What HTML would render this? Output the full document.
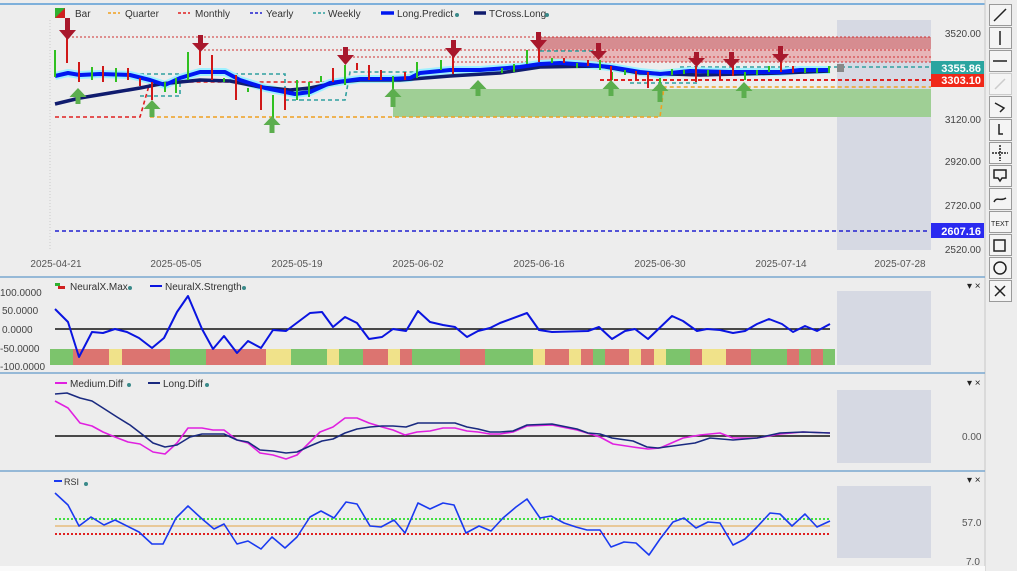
<!DOCTYPE html>
<html><head><meta charset="utf-8"><style>
html,body{margin:0;padding:0;background:#ededed;}
svg{display:block;font-family:"Liberation Sans",sans-serif;}
</style></head><body>
<svg width="1017" height="571" viewBox="0 0 1017 571" xmlns="http://www.w3.org/2000/svg">
<rect width="1017" height="571" fill="#ededed"/>
<line x1="0" y1="4" x2="985" y2="4" stroke="#5a9bd5" stroke-width="1.5"/>
<line x1="985" y1="0" x2="985" y2="571" stroke="#c8c8c8"/>
<!-- shaded future regions -->
<rect x="837" y="20" width="94" height="230" fill="#d6d9e3"/>
<rect x="837" y="291" width="94" height="74" fill="#d6d9e3"/>
<rect x="837" y="390" width="94" height="73" fill="#d6d9e3"/>
<rect x="837" y="486" width="94" height="72" fill="#d6d9e3"/>
<!-- zones -->
<rect x="538" y="37" width="393" height="12" fill="#d68c90"/>
<rect x="538" y="49" width="393" height="13" fill="#e7b5b7"/>
<rect x="393" y="89" width="538" height="28" fill="#9fcf95"/>
<!-- dotted red lines -->
<g stroke="#d03030" stroke-width="1" stroke-dasharray="2,2" fill="none">
<line x1="68" y1="37" x2="931" y2="37"/>
<line x1="200" y1="50" x2="931" y2="50"/>
<line x1="345" y1="57" x2="931" y2="57"/>
<line x1="453" y1="62" x2="931" y2="62"/>
</g>
<!-- quarter / monthly / yearly / weekly -->
<g fill="none" stroke-width="1.6" stroke-dasharray="4,3">
<polyline points="150,117 660,117 664,87 931,87" stroke="#f0a020"/>
<polyline points="55,117 140,117 150,82 390,82" stroke="#e02020"/>
<polyline points="600,80 931,80" stroke="#e02020" stroke-width="2"/>
<line x1="55" y1="231" x2="930" y2="231" stroke="#2020d0"/>
<polyline points="140,74 180,74 180,96 140,96" stroke="#30a0a0"/>
<polyline points="220,74 285,74 285,100 300,100" stroke="#30a0a0"/>
<polyline points="300,100 345,100 350,72 420,72" stroke="#30a0a0"/>
<polyline points="540,51 600,51" stroke="#30a0a0"/>
<polyline points="630,83 700,83" stroke="#30a0a0"/>
<polyline points="680,67 931,67" stroke="#30a0a0"/>
</g>
<!-- moving lines -->
<polyline fill="none" stroke="#9ff0ff" stroke-width="8" stroke-linejoin="round" points="55,76 68,73 80,75 100,74 130,75 150,80 165,85 180,78 200,72 225,72 240,80 265,88 295,94 310,92 330,83 360,79 390,79 410,78 420,73 450,70 480,70 520,67 540,64 560,63 590,65 610,67 640,72 660,74 690,71 730,72 780,72 800,70 830,70"/>
<polyline fill="none" stroke="#101c6e" stroke-width="3.5" stroke-linejoin="round" points="55,104 80,98 110,93 140,88 160,84 200,80 230,81 260,87 290,90 310,88 340,82 360,80 400,80 450,76 500,73 540,67 600,66 640,73 700,75 780,73 830,71"/>
<polyline fill="none" stroke="#0018f0" stroke-width="4" stroke-linejoin="round" points="55,76 68,73 80,75 100,74 130,75 150,80 165,85 180,78 200,72 225,72 240,80 265,88 295,94 310,92 330,83 360,79 390,79 410,78 420,73 450,70 480,70 520,67 540,64 560,63 590,65 610,67 640,72 660,74 690,71 730,72 780,72 800,70 830,70"/>
<!-- bars -->
<path fill="none" stroke="#30c020" stroke-width="2" d="M55 50V77M92 67V80M116 68V82M165 82V92M176 78V93M188 52V80M224 78V82M248 88V92M273 95V120M297 80V100M309 82V97M321 76V82M345 65V85M393 76V107M417 62V78M441 60V70M502 68V73M514 64V72M527 50V64M552 58V63M577 63V68M600 60V70M612 72V80M625 70V75M660 78V86M672 69V75M684 70V74M708 70V76M745 72V80M757 70V75M769 66V72M805 68V73M817 68V73M829 66V73"/>
<path fill="none" stroke="#d01818" stroke-width="2" d="M67 38V63M79 62V82M103 66V82M128 68V80M140 78V86M152 82V100M200 45V65M212 55V80M236 75V100M261 85V110M285 88V110M333 68V82M357 63V70M369 65V80M381 70V80M405 72V80M453 52V74M539 48V62M564 58V63M588 60V66M611 66V83M636 71V80M648 72V88M696 66V82M720 70V80M733 63V76M781 55V72M793 66V73"/>
<!-- arrows -->
<g fill="#a8182c">
<path d="M65 18h5v12h6l-8.5 10-8.5-10h6z"/>
<path d="M198 35h5v8h6l-8.5 9-8.5-9h6z"/>
<path d="M343 47h5v8h6l-8.5 10-8.5-10h6z"/>
<path d="M451 40h5v8h6l-8.5 10-8.5-10h6z"/>
<path d="M536 32h5v8h6l-8.5 10-8.5-10h6z"/>
<path d="M596 43h5v8h6l-8.5 9-8.5-9h6z"/>
<path d="M694 52h5v6h6l-8.5 9-8.5-9h6z"/>
<path d="M729 52h5v7h6l-8.5 9-8.5-9h6z"/>
<path d="M778 46h5v8h6l-8.5 9-8.5-9h6z"/>
</g>
<g fill="#5cae4e">
<path d="M78 88l8.5 9h-6v7h-5v-7h-6z"/>
<path d="M152 100l8.5 9h-6v8h-5v-8h-6z"/>
<path d="M272 116l8.5 9h-6v8h-5v-8h-6z"/>
<path d="M393 88l8.5 9h-6v10h-5v-10h-6z"/>
<path d="M478 80l8.5 9h-6v7h-5v-7h-6z"/>
<path d="M611 80l8.5 9h-6v7h-5v-7h-6z"/>
<path d="M660 82l8.5 9h-6v11h-5v-11h-6z"/>
<path d="M744 82l8.5 9h-6v7h-5v-7h-6z"/>
</g>
<rect x="837" y="64" width="7" height="8" fill="#888"/>
<!-- price labels -->
<g font-size="10" fill="#444" text-anchor="end">
<text x="981" y="37">3520.00</text>
<text x="981" y="123">3120.00</text>
<text x="981" y="165">2920.00</text>
<text x="981" y="209">2720.00</text>
<text x="981" y="253">2520.00</text>
</g>
<rect x="931" y="61" width="53" height="14" fill="#2aa5a0"/>
<text x="981" y="72" font-size="11" font-weight="bold" fill="#fff" text-anchor="end">3355.86</text>
<rect x="931" y="74" width="53" height="13" fill="#f02818"/>
<text x="981" y="84" font-size="11" font-weight="bold" fill="#fff" text-anchor="end">3303.10</text>
<rect x="931" y="223" width="53" height="15" fill="#2a2af0"/>
<text x="981" y="235" font-size="11" font-weight="bold" fill="#fff" text-anchor="end">2607.16</text>
<!-- dates -->
<g font-size="10" fill="#555" text-anchor="middle">
<text x="56" y="267">2025-04-21</text>
<text x="176" y="267">2025-05-05</text>
<text x="297" y="267">2025-05-19</text>
<text x="418" y="267">2025-06-02</text>
<text x="539" y="267">2025-06-16</text>
<text x="660" y="267">2025-06-30</text>
<text x="781" y="267">2025-07-14</text>
<text x="900" y="267">2025-07-28</text>
</g>
<line x1="50" y1="20" x2="50" y2="250" stroke="#ccc" stroke-dasharray="1,2"/>
<!-- top legend -->
<g font-size="10" fill="#333">
<path d="M55 8h10v10h-10z" fill="#d02020"/><path d="M55 8h10l-10 10z" fill="#30b030"/>
<text x="75" y="17">Bar</text>
<line x1="108" y1="13" x2="120" y2="13" stroke="#f0a020" stroke-width="1.5" stroke-dasharray="3,2"/><text x="125" y="17">Quarter</text>
<line x1="178" y1="13" x2="190" y2="13" stroke="#e02020" stroke-width="1.5" stroke-dasharray="3,2"/><text x="195" y="17">Monthly</text>
<line x1="250" y1="13" x2="262" y2="13" stroke="#2020d0" stroke-width="1.5" stroke-dasharray="3,2"/><text x="266" y="17">Yearly</text>
<line x1="313" y1="13" x2="325" y2="13" stroke="#30a0a0" stroke-width="1.5" stroke-dasharray="3,2"/><text x="328" y="17">Weekly</text>
<line x1="381" y1="13" x2="394" y2="13" stroke="#0018f0" stroke-width="3.5"/><text x="397" y="17">Long.Predict</text>
<circle cx="457" cy="15" r="2" fill="#3a8a8a"/>
<line x1="474" y1="13" x2="486" y2="13" stroke="#101c6e" stroke-width="3.5"/><text x="489" y="17">TCross.Long</text>
<circle cx="547" cy="15" r="2" fill="#3a8a8a"/>
</g>
<!-- separators -->
<g stroke="#7aa8d0" stroke-width="1.5">
<line x1="0" y1="277" x2="985" y2="277"/>
<line x1="0" y1="373" x2="985" y2="373"/>
<line x1="0" y1="471" x2="985" y2="471"/>
</g>
<g font-size="10" fill="#222">
<text x="967" y="289">▾ ×</text><text x="967" y="386">▾ ×</text><text x="967" y="483">▾ ×</text>
</g>
<!-- NeuralX panel -->
<g font-size="10" fill="#444">
<text x="0" y="296">100.0000</text><text x="2" y="314">50.0000</text><text x="2" y="333">0.0000</text><text x="0" y="352">-50.0000</text><text x="0" y="370">-100.0000</text>
</g>
<g>
<rect x="50" y="349" width="23" height="16" fill="#7cc46c"/><rect x="73" y="349" width="36" height="16" fill="#dc7470"/><rect x="109" y="349" width="13" height="16" fill="#f0e28a"/><rect x="122" y="349" width="48" height="16" fill="#dc7470"/><rect x="170" y="349" width="36" height="16" fill="#7cc46c"/><rect x="206" y="349" width="60" height="16" fill="#dc7470"/><rect x="266" y="349" width="25" height="16" fill="#f0e28a"/><rect x="291" y="349" width="36" height="16" fill="#7cc46c"/><rect x="327" y="349" width="12" height="16" fill="#f0e28a"/><rect x="339" y="349" width="24" height="16" fill="#7cc46c"/><rect x="363" y="349" width="25" height="16" fill="#dc7470"/><rect x="388" y="349" width="12" height="16" fill="#f0e28a"/><rect x="400" y="349" width="12" height="16" fill="#dc7470"/><rect x="412" y="349" width="48" height="16" fill="#7cc46c"/><rect x="460" y="349" width="25" height="16" fill="#dc7470"/><rect x="485" y="349" width="48" height="16" fill="#7cc46c"/><rect x="533" y="349" width="12" height="16" fill="#f0e28a"/><rect x="545" y="349" width="24" height="16" fill="#dc7470"/><rect x="569" y="349" width="12" height="16" fill="#f0e28a"/><rect x="581" y="349" width="12" height="16" fill="#dc7470"/><rect x="593" y="349" width="12" height="16" fill="#7cc46c"/><rect x="605" y="349" width="24" height="16" fill="#dc7470"/><rect x="629" y="349" width="12" height="16" fill="#f0e28a"/><rect x="641" y="349" width="13" height="16" fill="#dc7470"/><rect x="654" y="349" width="12" height="16" fill="#f0e28a"/><rect x="666" y="349" width="24" height="16" fill="#7cc46c"/><rect x="690" y="349" width="12" height="16" fill="#dc7470"/><rect x="702" y="349" width="24" height="16" fill="#f0e28a"/><rect x="726" y="349" width="25" height="16" fill="#dc7470"/><rect x="751" y="349" width="36" height="16" fill="#7cc46c"/><rect x="787" y="349" width="12" height="16" fill="#dc7470"/><rect x="799" y="349" width="12" height="16" fill="#7cc46c"/><rect x="811" y="349" width="12" height="16" fill="#dc7470"/><rect x="823" y="349" width="12" height="16" fill="#7cc46c"/>
</g>
<line x1="55" y1="329" x2="830" y2="329" stroke="#111" stroke-width="1.5"/>
<polyline fill="none" stroke="#0a14e0" stroke-width="2" stroke-linejoin="round" points="55,309 68,322 79,357 92,332 103,333 115,329 127,332 139,338 152,348 164,338 177,312 188,296 202,329 213,349 224,336 237,353 248,341 261,348 273,330 286,331 298,322 310,313 322,312 333,327 345,317 357,323 369,339 382,337 393,329 406,331 418,311 430,322 443,325 455,327 467,337 478,331 490,328 500,323 527,313 539,330 552,332 588,331 599,327 612,339 625,331 635,329 648,339 672,316 683,321 697,331 707,329 720,330 733,333 745,331 757,324 769,319 782,324 793,332 805,326 817,331 830,324"/>
<g font-size="10" fill="#333">
<rect x="55" y="283" width="5" height="3" fill="#30b030"/><rect x="58" y="286" width="7" height="3" fill="#d02020"/>
<text x="70" y="290">NeuralX.Max</text><circle cx="130" cy="288" r="2" fill="#3a8a8a"/>
<line x1="150" y1="286" x2="162" y2="286" stroke="#0a14e0" stroke-width="2"/><text x="165" y="290">NeuralX.Strength</text><circle cx="244" cy="288" r="2" fill="#3a8a8a"/>
</g>
<!-- Diff panel -->
<line x1="55" y1="436" x2="830" y2="436" stroke="#111" stroke-width="1.5"/>
<polyline fill="none" stroke="#e020e0" stroke-width="1.6" stroke-linejoin="round" points="55,401 68,408 80,423 92,426 103,432 115,437 128,442 140,444 153,452 165,454 177,443 188,428 202,428 213,430 224,430 237,440 248,443 260,453 273,455 286,459 297,455 310,442 320,432 333,427 345,418 357,418 369,423 382,427 393,430 405,435 417,432 430,431 443,428 455,428 467,431 478,432 490,434 500,434 513,432 527,426 552,425 577,430 587,433 600,437 613,444 633,447 648,449 660,448 683,438 700,435 720,433 733,438 757,438 780,434 803,432 830,433"/>
<polyline fill="none" stroke="#1a2a80" stroke-width="1.6" stroke-linejoin="round" points="55,394 67,393 80,398 92,401 103,408 117,417 130,425 143,435 153,443 165,447 177,445 190,437 202,434 224,434 237,440 248,442 260,450 273,451 286,453 297,452 310,446 322,441 333,439 345,433 357,429 370,427 382,426 393,426 406,427 418,423 430,423 455,423 467,427 478,429 490,432 500,432 513,431 527,425 552,424 577,429 588,433 600,434 612,438 633,441 647,447 658,448 680,445 695,443 710,438 733,440 757,438 780,433 803,432 830,433"/>
<g font-size="10" fill="#333">
<line x1="55" y1="383" x2="67" y2="383" stroke="#e020e0" stroke-width="2"/><text x="70" y="387">Medium.Diff</text><circle cx="129" cy="385" r="2" fill="#3a8a8a"/>
<line x1="148" y1="383" x2="160" y2="383" stroke="#1a2a80" stroke-width="2"/><text x="163" y="387">Long.Diff</text><circle cx="207" cy="385" r="2" fill="#3a8a8a"/>
<text x="962" y="440" fill="#555">0.00</text>
</g>
<!-- RSI panel -->
<line x1="55" y1="519" x2="830" y2="519" stroke="#40e040" stroke-width="2" stroke-dasharray="2,2"/>
<line x1="55" y1="526" x2="830" y2="526" stroke="#e8c898" stroke-width="2"/>
<line x1="55" y1="534" x2="830" y2="534" stroke="#e02020" stroke-width="2" stroke-dasharray="2,2"/>
<polyline fill="none" stroke="#1a3af0" stroke-width="1.6" stroke-linejoin="round" points="55,493 68,505 79,526 91,517 104,525 115,520 139,532 152,544 163,544 176,518 188,506 201,518 214,529 224,524 237,544 248,541 261,549 272,537 285,548 297,537 310,517 321,511 334,518 346,502 357,504 370,526 381,527 394,520 405,533 418,503 430,509 443,503 454,505 466,533 479,526 491,531 503,518 516,507 527,499 540,518 551,516 564,523 576,527 587,530 600,530 611,547 624,542 636,543 649,555 660,539 673,522 684,518 696,528 708,522 720,523 733,545 745,539 757,527 770,513 780,514 792,526 805,514 817,527 830,521"/>
<g font-size="10" fill="#333">
<line x1="54" y1="481" x2="62" y2="481" stroke="#1a3af0" stroke-width="2"/><text x="64" y="485" font-size="9">RSI</text><circle cx="86" cy="484" r="2" fill="#3a8a8a"/>
<text x="962" y="526" fill="#555">57.0</text><text x="966" y="565" fill="#555">7.0</text>
</g>
<rect x="0" y="566" width="985" height="5" fill="#fafafa"/>
<!-- toolbar -->
<g fill="#f4f4f4" stroke="#9a9a9a">
<rect x="989.5" y="4.5" width="22" height="21"/><rect x="989.5" y="27.5" width="22" height="21"/><rect x="989.5" y="50.5" width="22" height="21"/><rect x="989.5" y="73.5" width="22" height="21" stroke="#ccc"/><rect x="989.5" y="96.5" width="22" height="21"/><rect x="989.5" y="119.5" width="22" height="21"/><rect x="989.5" y="142.5" width="22" height="21"/><rect x="989.5" y="165.5" width="22" height="21"/><rect x="989.5" y="188.5" width="22" height="21"/><rect x="989.5" y="211.5" width="22" height="21"/><rect x="989.5" y="234.5" width="22" height="21"/><rect x="989.5" y="257.5" width="22" height="21"/><rect x="989.5" y="280.5" width="22" height="21"/>
</g>
<g stroke="#222" stroke-width="1.5" fill="none">
<line x1="994" y1="21" x2="1006" y2="9"/>
<line x1="1000" y1="31" x2="1000" y2="45"/>
<line x1="993" y1="61" x2="1007" y2="61"/>
<line x1="995" y1="89" x2="1005" y2="79" stroke="#ccc"/>
<path d="M995 103l9 5-4 4"/>
<path d="M999 124v10h4"/>
<path d="M1000 145v16M992 153h16" stroke-dasharray="2,1"/>
<path d="M994 170h12v8h-4l-2 3-2-3h-4z"/>
<path d="M994 202c3-6 6 0 12-4"/>
<rect x="994" y="240" width="11" height="11"/>
<circle cx="1000" cy="268" r="6"/>
<path d="M995 286l10 10M1005 286l-10 10"/>
</g>
<text x="1000" y="226" font-size="7" fill="#222" text-anchor="middle">TEXT</text>
</svg>
</body></html>
